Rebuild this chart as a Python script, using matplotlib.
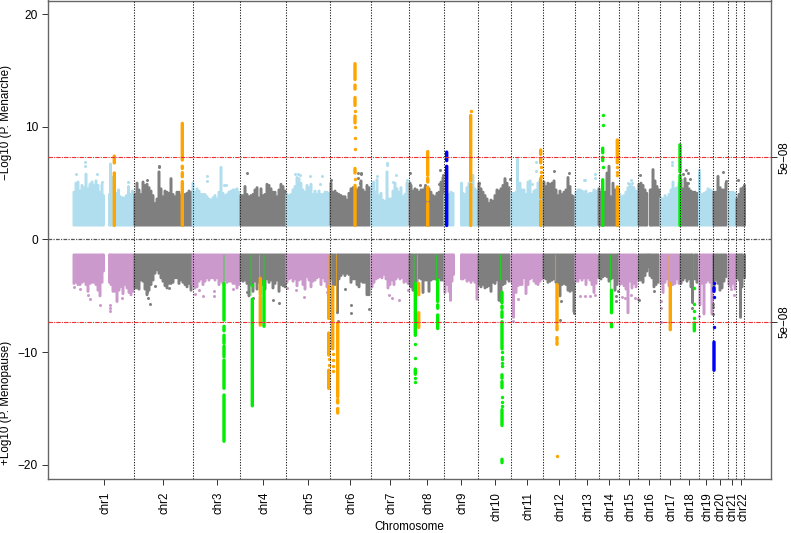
import matplotlib
matplotlib.use("Agg")
import matplotlib.pyplot as plt
from matplotlib.collections import LineCollection
from matplotlib.transforms import ScaledTranslation

plt.rcParams['font.family'] = ['Liberation Sans', 'DejaVu Sans']

W, H = 791, 533
chrom_names = [f"chr{i}" for i in range(1, 23)]
chrom_centers = [104.3, 163.3, 216.7, 263.3, 308.3, 350.3, 390, 426.7, 461, 494.7, 527.3, 559.3,
                 587, 609.3, 629, 649.3, 670, 689.3, 705.7, 720, 732.3, 740.7]
chrom_edges = [134.3, 192.7, 240.3, 286.3, 329.7, 371, 409.3, 444.3, 478.3, 511, 543.3, 575.3,
               598.7, 619.3, 638.3, 660.3, 679.7, 698.7, 713, 728.3, 736.3, 744.3]
y_ticks = [20, 10, 0, -10, -20]
threshold = 7.3

# Menarche: upper envelope of the SNP cloud, (position, -log10 P)
top_chr1 = [(74,4.2),(76,5.0),(78,5.1),(80,4.3),(82,4.8),(84,4.6),(86,5.8),(88,4.5),(90,4.9),(92,5.1),(94,4.8),(96,5.2),(98,4.8),(100,4.2),(102,4.9),(103.5,3.9),
            (109.5,4.0),(110.5,6.7),(112.5,5.5),(114.5,4.5),(116.5,4.1),(118.5,4.4),(120.5,3.8),(122.5,3.7),(124.5,3.7),(126.5,3.9),(128.5,4.7),(130.5,4.0),(132.5,4.3)]
top_chr2 = [(135,4.0),(137,5.0),(139,4.4),(141,4.0),(143,5.1),(145,4.8),(147,4.9),(149,4.6),(151,4.3),(153,3.9),(155,3.2),(157,3.6),(159,6.0),(161,4.5),(163,3.8),(165,4.3),(167,4.2),(169,4.1),(171,5.4),(173,4.0),(175,3.8),(177,4.2),(179,4.2),(181,3.9),(183,4.0),(185,4.0),(187,4.1),(189,4.3),(191,4.2)]
top_chr3 = [(193,5.0),(195,4.2),(197,4.5),(199,4.3),(201,4.0),(203,4.0),(205,4.0),(207,3.8),(209,3.6),(211,3.5),(213,3.7),(215,3.9),(217,3.6),(219,4.2),(221,6.4),(223,4.1),(225,3.9),(227,4.0),(229,4.2),(231,4.3),(233,4.4),(235,4.4),(237,4.5),(239,4.2)]
top_chr4 = [(241,3.9),(243,3.9),(245,4.7),(247,4.0),(249,3.8),(251,3.9),(253,4.0),(255,4.4),(257,4.6),(259,3.7),(261,4.5),(263,3.9),(265,4.0),(267,4.9),(269,4.8),(271,4.5),(273,4.2),(275,4.2),(277,3.8),(279,4.4),(281,4.9),(283,4.7),(285,4.3)]
top_chr5 = [(287,4.0),(289,3.9),(291,4.0),(293,4.4),(295,4.7),(297,5.5),(299,5.4),(301,5.0),(303,4.4),(305,4.2),(307,4.8),(309,4.6),(311,4.9),(313,4.0),(315,4.3),(317,4.0),(319,4.3),(321,4.0),(323,4.0),(325,4.2),(327,4.2),(329,4.1)]
top_chr6 = [(331,5.0),(333,4.2),(335,4.3),(337,4.1),(339,4.0),(341,3.9),(343,3.8),(345,3.8),(347,3.5),(349,4.1),(351,4.5),(353,4.6),(355,4.6),(357,4.4),(359,4.6),(361,5.2),(363,4.4),(365,4.2),(367,4.8),(369,4.6)]
top_chr7 = [(372,4.8),(373.5,5.1),(375,4.2),(377,5.3),(379,3.9),(381,4.1),(383,3.5),(385,3.4),(387,6.0),(389,3.6),(391,3.6),(393,4.3),(395,5.0),(397,4.5),(399,4.2),(401,4.6),(403,3.8),(405,4.0),(407,5.0)]
top_chr8 = [(410,5.0),(411,4.8),(413,4.3),(415,4.5),(417,4.4),(419,4.2),(421,4.4),(423,4.4),(425,4.6),(427,4.4),(429,4.5),(431,4.2),(433,3.9),(435,3.8),(437,4.1),(439,4.2),(441,5.1),(443,5.5)]
top_chr9 = [(445,4.0),(447,4.0),(449,4.0),(451,4.2),(453,4.1),(461.5,5.0),(463,4.1),(465,4.0),(467,4.6),(469,5.0),(471,4.9),(473,5.7),(475,4.5),(477,4.3)]
top_chr10 = [(479,5.0),(481,4.5),(483,4.2),(485,3.9),(487,3.6),(489,3.2),(491,3.5),(493,3.4),(495,3.9),(497,4.4),(499,4.3),(501,4.5),(503,4.8),(505,5.4),(507,5.0),(509,4.6)]
top_chr11 = [(512,4.1),(514,4.1),(516,4.2),(517.5,7.1),(520,5.0),(522,4.4),(524,4.4),(526,4.0),(528,5.1),(530,5.2),(532,4.0),(534,4.3),(536,4.4),(538,5.0),(540,5.2),(542,4.2)]
top_chr12 = [(544,5.1),(546,4.7),(548,5.0),(550,4.9),(552,5.0),(554,5.2),(556,4.4),(558,3.9),(560,4.3),(562,4.0),(564,4.2),(566,4.4),(568,5.5),(570,4.7),(572,3.9),(574,3.8)]
top_chr13 = [(576,4.2),(578,4.4),(580,4.4),(582,4.3),(584,4.2),(586,4.3),(588,4.0),(590,4.1),(592,4.1),(594,4.4),(596,4.3)]
top_chr14 = [(599,4.5),(601,4.2),(603,3.9),(605,4.2),(607,5.9),(609,6.5),(611,3.8),(613,5.0),(615,4.4),(617,4.2),(618.5,4.4)]
top_chr15 = [(620,4.0),(622,3.8),(624,3.9),(626,4.2),(628,4.6),(630,4.9),(632,4.7),(634,4.6),(636,4.3)]
top_chr16 = [(639,4.9),(641,5.0),(643,4.8),(645,4.4),(646.7,4.1),(650.3,4.4),(651.5,4.4),(653,6.2),(655,5.2),(657,4.7),(659,4.4)]
top_chr17 = [(661,3.7),(663,3.6),(665,3.9),(667,3.7),(669,4.0),(671,4.4),(673,5.1),(675,4.5),(677,4.6),(679,5.0)]
top_chr18 = [(681,5.3),(683,4.5),(685,5.4),(687,5.0),(689,4.5),(691,4.3),(693,4.2),(695,4.2),(697,4.1)]
top_chr19 = [(699.5,5.9),(702,4.0),(704,4.1),(706,4.2),(708,4.5),(710,4.4),(712,4.3)]
top_chr20 = [(714,4.2),(716,4.2),(718,5.6),(720,4.6),(722,4.4),(724,4.4),(726,5.0)]
top_chr21 = [(729,4.2),(731,4.2),(733,4.2),(735,4.1)]
top_chr22 = [(737,3.6),(739,4.0),(741,4.5),(743,4.6),(744.5,4.6)]
top_columns = [top_chr1, top_chr2, top_chr3, top_chr4, top_chr5, top_chr6, top_chr7, top_chr8, top_chr9, top_chr10, top_chr11,
               top_chr12, top_chr13, top_chr14, top_chr15, top_chr16, top_chr17, top_chr18, top_chr19, top_chr20, top_chr21, top_chr22]

# Menarche: separate SNPs above the cloud, by band colour
top_dots_blue = [(76,5.8),(85,6.9),(85,6.5),(96.7,5.8),(101.7,5.1),(128.5,5.1),(207,5.6),(207,5.2),(224,4.8),(226,4.8),
                 (295,5.8),(298,5.8),(300,5.7),(310,5.6),(322,5.6),(320,4.9),(387,6.8),(387,6.6),(377,5.6),(396.5,5.7),(393,5.1),(407,5.3),
                 (536,6.9),(536,6.1),(532,4.9),(584,5.3),(585,5.3),(595,5.8),(595,5.5),(628,5.0),(632,5.0),(631,5.3),(672,6.9),(672,6.6),(699,6.2)]
top_dots_gray = [(159,6.5),(159,6.4),(147,5.3),(247,5.9),(331,5.3),(358,5.5),(361,5.8),(361,5.9),(358,5.9),(360.5,5.0),
                 (410,5.9),(440.5,6.2),(443,5.7),(420,4.8),(425,4.8),(439.5,4.9),(479,5.0),(510,5.4),(554.5,6.1),(569.5,5.9),(549,4.9),
                 (640,5.7),(686,6.2),(688,5.9),(683,5.8),(688,5.0),(690,5.4),(723,6.0),(726,5.2),(738.5,5.3),(744,4.8)]

# Menopause: lower envelope of the SNP cloud, (position, value)
bot_chr1 = [(74,-3.9),(76,-3.8),(78,-4.0),(80,-4.0),(82,-3.8),(84,-3.7),(86,-4.0),(88,-4.6),(90,-3.9),(92,-3.8),(94,-3.8),(96,-4.0),(98,-4.5),(100,-5.0),(102,-3.8),(103.5,-2.8),
            (109.5,-3.8),(111,-4.0),(113,-4.6),(115,-4.6),(117,-5.5),(119,-4.5),(121,-4.2),(123,-4.8),(125,-4.0),(127,-4.3),(129,-4.7),(131,-4.9),(133,-4.6)]
bot_chr2 = [(135,-4.3),(137,-4.3),(139,-4.4),(141,-3.6),(143,-3.7),(145,-4.4),(147,-4.9),(149,-4.5),(151,-4.0),(153,-3.6),(155,-3.0),(157,-2.7),(159,-3.0),(161,-3.4),(163,-3.7),(165,-4.1),(167,-4.3),(169,-3.9),(171,-3.9),(173,-3.8),(175,-3.4),(177,-3.4),(179,-3.9),(181,-3.6),(183,-3.8),(185,-4.0),(187,-4.2),(189,-3.9),(191,-4.5)]
bot_chr3 = [(193,-4.0),(195,-4.3),(197,-4.2),(199,-3.7),(201,-3.5),(203,-4.0),(205,-3.7),(207,-3.4),(209,-3.6),(211,-3.4),(213,-3.4),(215,-3.6),(217,-3.4),(219,-4.0),(221,-3.7),(223,-3.9),(225,-3.6),(227,-3.8),(229,-3.7),(231,-3.7),(233,-3.9),(235,-3.9),(237,-4.3),(239,-4.0)]
bot_chr4 = [(241,-3.6),(243,-3.7),(245,-3.6),(247,-3.9),(249,-5.0),(251,-4.0),(253,-4.6),(255,-3.7),(257,-4.4),(259,-3.8),(261,-3.7),(263,-4.0),(265,-4.4),(267,-3.5),(269,-3.8),(271,-3.6),(273,-4.3),(275,-3.9),(277,-3.6),(279,-4.6),(281,-4.0),(283,-4.1),(285,-4.2)]
bot_chr5 = [(287,-3.8),(289,-3.5),(291,-3.4),(293,-3.7),(295,-3.5),(297,-4.1),(299,-3.6),(301,-3.5),(303,-4.0),(305,-4.4),(307,-3.3),(309,-3.6),(311,-4.2),(313,-3.7),(315,-3.6),(317,-3.4),(319,-3.3),(321,-4.0),(323,-3.4),(325,-3.7),(327,-4.2),(329,-4.0)]
bot_chr6 = [(331,-3.5),(333,-4.0),(335,-4.0),(337.5,-6.5),(339,-3.5),(341,-3.2),(343,-3.0),(345,-3.2),(347,-3.0),(349,-3.1),(351,-3.8),(353,-3.5),(355,-3.5),(357,-4.0),(359,-4.2),(361,-3.7),(363,-3.8),(365,-3.8),(367,-4.9),(369,-4.9)]
bot_chr7 = [(372,-4.2),(374,-3.8),(376,-3.5),(378,-3.4),(380,-3.3),(382,-3.4),(384,-3.1),(386,-3.5),(388,-4.3),(390,-4.0),(392,-3.6),(394,-4.0),(396,-3.5),(398,-3.3),(400,-3.5),(402,-3.4),(404,-3.8),(406,-3.7),(408,-3.9)]
bot_chr8 = [(410,-4.0),(411,-4.2),(413,-4.5),(415,-4.0),(417,-3.7),(419,-3.4),(421,-3.5),(423,-4.7),(425,-3.6),(427,-3.6),(429,-4.6),(431,-3.6),(433,-3.5),(435,-3.5),(437,-3.6),(439,-3.4),(441,-3.6),(443,-3.6)]
bot_chr9 = [(445,-4.7),(447,-4.0),(449,-4.6),(450.5,-5.4),(452,-3.7),(453.5,-3.1),(461.5,-3.5),(463,-3.5),(465,-3.4),(467,-3.7),(469,-3.6),(471,-3.8),(473,-3.6),(475,-3.8),(477,-5.3)]
bot_chr10 = [(479,-4.0),(481,-4.2),(483,-4.0),(485,-4.3),(487,-4.2),(489,-4.1),(491,-4.6),(493,-3.8),(495,-3.9),(497,-3.6),(499,-5.4),(501,-5.5),(503,-4.0),(505,-3.9),(507,-3.5),(509,-3.7)]
bot_chr11 = [(512,-3.8),(513.5,-6.9),(516,-4.7),(518,-4.1),(520,-4.0),(522,-4.0),(524,-3.4),(526,-4.8),(528,-4.0),(530,-3.5),(532,-3.4),(534,-3.7),(536,-3.9),(538,-4.0),(540,-3.7),(542,-3.5)]
bot_chr12 = [(544,-3.4),(546,-3.5),(548,-3.8),(550,-3.7),(552,-3.6),(554,-3.5),(556,-3.8),(558,-3.9),(560,-5.0),(562,-4.0),(564,-3.9),(566,-4.0),(568,-4.5),(570,-4.6),(572,-4.5),(574,-6.4)]
bot_chr13 = [(576,-3.7),(578,-3.7),(580,-3.4),(582,-3.6),(584,-3.4),(586,-4.0),(588,-3.4),(590,-3.6),(592,-4.0),(594,-4.7),(596,-3.9)]
bot_chr14 = [(599,-3.4),(601,-3.5),(603,-3.3),(605,-3.2),(607,-3.3),(609,-3.7),(611,-3.5),(613,-3.4),(615,-4.5),(617,-4.0),(618.5,-3.6)]
bot_chr15 = [(620,-4.0),(622,-3.9),(624,-4.1),(626,-4.4),(628,-6.5),(630,-3.7),(632,-4.3),(634,-3.9),(636,-4.2)]
bot_chr16 = [(639,-3.6),(641,-3.6),(643,-3.8),(645,-3.2),(647,-2.8),(648.5,-2.4),(650,-3.2),(652,-3.4),(654,-4.2),(656,-4.0),(658,-3.8)]
bot_chr17 = [(661,-3.9),(663,-4.7),(665,-3.8),(667,-3.5),(669,-4.1),(671,-3.8),(673,-4.0),(675,-3.9),(677,-3.5),(679,-3.9)]
bot_chr18 = [(681,-3.9),(683,-3.6),(685,-3.4),(687,-3.7),(689,-3.5),(691,-4.2),(692.5,-5.6),(695,-3.5),(697,-3.8)]
bot_chr19 = [(700,-5.8),(702,-3.9),(704,-6.6),(706,-3.8),(708,-3.6),(710,-3.8),(712,-6.6)]
bot_chr20 = [(714,-4.4),(716,-3.6),(718,-3.9),(720,-4.5),(722,-4.3),(724,-3.7),(726,-3.3)]
bot_chr21 = [(729,-4.0),(731,-4.2),(733,-3.9),(735,-4.4)]
bot_chr22 = [(737,-3.4),(739,-3.6),(740.5,-6.9),(742,-4.2),(744.5,-3.4)]
bot_columns = [bot_chr1, bot_chr2, bot_chr3, bot_chr4, bot_chr5, bot_chr6, bot_chr7, bot_chr8, bot_chr9, bot_chr10, bot_chr11,
               bot_chr12, bot_chr13, bot_chr14, bot_chr15, bot_chr16, bot_chr17, bot_chr18, bot_chr19, bot_chr20, bot_chr21, bot_chr22]

bot_dots_pink = [(74,-4.2),(80,-4.4),(90,-5.3),(100.5,-5.8),(88,-4.9),(110,-5.8),(110,-6.1),(110,-6.35),(122.3,-5.2),
                 (195,-4.8),(203,-5.0),(214,-5.0),(214,-4.6),(199,-4.5),(233,-4.4),(287,-4.3),(296,-4.5),(304.5,-5.1),(327,-4.7),
                 (389,-4.9),(392,-5.2),(399,-5.4),(408,-4.5),(513,-7.2),(518.3,-5.3),(580,-5.0),(585,-5.0),(590,-5.0),(595,-4.9),
                 (622,-5.1),(625,-5.2),(631,-4.9),(635,-5.2),(638,-5.3),(661,-5.5),(661.5,-6.1),(661.5,-7.3),(699,-6.8),(731,-4.4),(734,-4.9)]
bot_dots_gray = [(147,-4.7),(148,-5.15),(150.5,-5.75),(155,-4.1),(169,-4.3),(273,-5.4),(279,-5.6),(253,-5.2),(247,-4.7),
                 (351,-5.8),(351,-6.5),(369.5,-6.2),(345,-4.4),(337.7,-7.2),(560,-7.1),(574,-6.5),(561,-5.5),(616,-5.0),(616.5,-5.5),(618,-4.6),
                 (639,-5.4),(654,-4.6),(692,-6.1),(713.5,-5.7),(713.5,-6.0),(713.5,-6.6)]

# Highlighted loci: (position, low, high) runs of SNPs; equal ends are a single SNP
top_orange_runs = [(114.3,1.25,5.0),(114.3,5.1,5.9),(114.3,6.8,7.4),(182.3,1.25,5.13),(182.3,5.57,5.93),(182.3,6.3,6.5),(182.3,7.05,10.3),
                   (355,1.25,4.8),(355,5.4,5.4),(355,5.9,6.3),(355,8.0,8.0),(355,9.03,9.03),(355,10.0,10.0),(355,10.35,10.95),(355,11.4,11.4),(355,11.9,12.6),(355,13.35,13.7),(355,14.2,15.6),
                   (427.7,1.25,3.2),(427.7,3.5,4.65),(427.7,5.1,5.45),(427.7,5.7,7.8),(470.7,1.25,4.9),(470.7,5.2,11.0),(470.7,11.4,11.4),
                   (540.7,1.25,3.4),(540.7,3.7,5.4),(540.7,5.6,5.6),(540.7,5.95,5.95),(540.7,6.4,6.4),(540.7,6.8,7.2),(540.7,7.55,7.94),
                   (617.3,1.25,4.66),(617.3,5.7,5.7),(617.3,6.0,6.0),(617.3,6.4,6.4),(617.3,6.8,8.83)]
top_green_runs = [(602.7,1.25,5.3),(602.7,6.45,6.45),(602.7,7.0,7.3),(602.7,7.7,8.1),(602.7,10.16,10.16),(602.7,11.05,11.05),(680,1.25,5.7),(680,6.0,8.4)]
top_blue_runs = [(446.7,1.25,6.5),(446.7,7.0,7.75)]
bot_orange_runs = [(260.3,-4.9,-3.45),(260.3,-7.6,-5.1),(328.7,-7.0,-4.2),(328.7,-10.25,-8.3),(328.7,-10.6,-10.6),(328.7,-11.1,-11.1),(328.7,-13.2,-11.6),
                   (332.7,-9.7,-4.2),(332.7,-10.2,-10.2),(332.7,-10.7,-10.7),(332.7,-11.2,-11.2),(332.7,-11.7,-11.7),
                   (337.7,-13.95,-7.4),(337.7,-14.5,-14.2),(337.7,-15.4,-15.0),(418.7,-4.9,-3.9),(418.7,-7.8,-6.5),
                   (557,-7.4,-4.0),(557,-8.0,-7.6),(557,-8.9,-8.7),(557,-9.3,-9.1),(557,-19.2,-19.2),(670.3,-8.0,-3.9)]
bot_green_runs = [(224,-7.15,-3.9),(224,-8.1,-7.7),(224,-9.2,-8.5),(224,-10.4,-9.45),(224,-11.9,-10.7),(224,-13.2,-12.0),(224,-17.9,-13.8),
                  (252.3,-4.0,-4.0),(252.3,-11.9,-5.3),(252.3,-14.75,-12.0),(264,-7.7,-3.7),
                  (415.3,-8.5,-3.9),(415.3,-9.3,-9.3),(415.3,-10.5,-10.5),(415.3,-11.95,-11.5),(415.3,-12.3,-12.3),(415.3,-12.6,-12.6),
                  (437.7,-4.8,-3.6),(437.7,-5.5,-4.9),(437.7,-6.1,-5.8),(437.7,-7.9,-6.7),
                  (502,-5.6,-4.7),(502,-6.1,-5.9),(502,-6.9,-6.4),(502,-9.7,-7.3),(502,-9.95,-9.95),(502,-10.4,-10.4),(502,-10.6,-10.6),(502,-11.0,-11.0),(502,-11.2,-11.2),
                  (502,-12.3,-12.0),(502,-13.15,-12.6),(502,-13.95,-13.95),(502,-14.4,-14.4),(502,-14.75,-14.75),(502,-16.5,-15.1),(502,-19.8,-19.5),
                  (611.5,-6.5,-4.5),(611.5,-7.75,-7.45),(694.3,-4.3,-4.3),(694.3,-5.7,-5.7),(694.3,-6.3,-6.3),(694.3,-7.0,-7.0),(694.3,-8.1,-7.4)]
bot_blue_runs = [(714,-3.9,-3.9),(714,-4.6,-4.3),(714,-5.1,-5.1),(714,-7.8,-7.8),(714,-11.6,-9.1)]
# Thin traces running up to the band edge
bot_green_thin = [(224,-3.9),(251,-5.0),(264,-3.7),(414,-3.9),(436.7,-3.6),(500.5,-3.6),(610.5,-4.5),(693.3,-3.9)]
bot_orange_thin = [(259.5,-3.4),(328,-4.2),(331,-4.2),(336.5,-6.4),(417.5,-3.9),(555.7,-3.7),(669,-3.9)]
bot_blue_thin = [(713.3,-3.9)]

LIGHT, GRAY, PINK = '#B0DEEE', '#7F7F7F', '#CC99CC'
ORANGE, GREEN, BLUE = '#FFA500', '#00EE00', '#0000FF'
DOT_PX = 3.0
lw_pt = DOT_PX * 72 / 100
hi_pt = 3.4 * 72 / 100
base_top, base_bot = 1.27, -1.36
label_offsets_px = [1.5] * 19 + [0.6, -0.2, 2.8]

fig = plt.figure(figsize=(W / 100, H / 100), dpi=100)
ax = fig.add_axes([47.7 / W, 1 - 479.3 / H, (771.3 - 47.7) / W, (479.3 - 0.5) / H])
ax.set_xlim(47.7, 771.3)
ax.set_ylim((239.5 - 479.3) / 11.27, (239.5 - 0.5) / 11.27)


def add_segments(segs, color, lw=lw_pt, z=2, cap='round'):
    lc = LineCollection(segs, colors=color, linewidths=lw, capstyle=cap, zorder=z)
    lc.set_snap(False)
    ax.add_collection(lc)


for i, (upper, lower) in enumerate(zip(top_columns, bot_columns)):
    odd = i % 2 == 0
    add_segments([[(x, base_top), (x, v)] for x, v in upper], LIGHT if odd else GRAY)
    add_segments([[(x, base_bot), (x, v)] for x, v in lower], PINK if odd else GRAY)

for pts, col in [(top_dots_blue, LIGHT), (top_dots_gray, GRAY), (bot_dots_pink, PINK), (bot_dots_gray, GRAY)]:
    ax.scatter([p[0] for p in pts], [p[1] for p in pts], s=lw_pt ** 2, color=col, linewidths=0, zorder=2.5)

for runs, col in [(top_orange_runs, ORANGE), (top_green_runs, GREEN), (top_blue_runs, BLUE),
                  (bot_orange_runs, ORANGE), (bot_green_runs, GREEN), (bot_blue_runs, BLUE)]:
    add_segments([[(x, a), (x, b)] for x, a, b in runs if a != b], col, lw=hi_pt, z=3)
    singles = [(x, a) for x, a, b in runs if a == b]
    ax.scatter([p[0] for p in singles], [p[1] for p in singles], s=hi_pt ** 2, color=col, linewidths=0, zorder=3)

for thin, col in [(bot_green_thin, GREEN), (bot_orange_thin, ORANGE), (bot_blue_thin, BLUE)]:
    add_segments([[(x, base_bot), (x, v)] for x, v in thin], col, lw=0.5, z=2.8, cap='butt')

for e in chrom_edges:
    ax.axvline(e, color='#222222', lw=0.75, ls=(0, (1.2, 1.4)), zorder=4)
for t in (threshold, -threshold):
    ax.axhline(t, color='#F03030', lw=0.8, ls=(0, (4, 1, 1, 1)), zorder=4)
ax.axhline(0, color='#555555', lw=0.9, ls=(0, (3, 1, 1, 1)), zorder=4)

for s in ax.spines.values():
    s.set_color('#666666')
    s.set_linewidth(1.0)

ax.set_yticks(y_ticks)
ax.set_yticklabels(['20', '10', '0', '\u221210', '\u221220'], fontsize=8.6)
ax.tick_params(axis='y', length=4, width=0.7, color='#333333', pad=3)
ax.set_xticks(chrom_centers)
ax.set_xticklabels(chrom_names, rotation=90, fontsize=8.3, va='top', ha='center')
ax.tick_params(axis='x', length=4, width=0.7, color='#333333', pad=5)
for lab, off in zip(ax.get_xticklabels(), label_offsets_px):
    lab.set_transform(lab.get_transform() + ScaledTranslation(off / 100, 0, fig.dpi_scale_trans))

ax2 = ax.twinx()
ax2.set_ylim(ax.get_ylim())
ax2.set_yticks([threshold, -threshold])
ax2.set_yticklabels(['5e\u221208', '5e\u221208'], rotation=90, va='center', fontsize=8.4)
ax2.tick_params(axis='y', length=4, width=0.7, color='#333333', pad=1.5)
for s in ax2.spines.values():
    s.set_visible(False)


def px_text(x, y, s, **kw):
    fig.text(x / W, 1 - y / H, s, fontsize=8.4, ha='center', va='center', **kw)


px_text(6.5, 122, '\u2212Log10 (P. Menarche)', rotation=90)
px_text(6.5, 403, '+Log10 (P. Menopause)', rotation=90)
px_text(409, 527, 'Chromosome')

fig.savefig('out.png', dpi=100)
